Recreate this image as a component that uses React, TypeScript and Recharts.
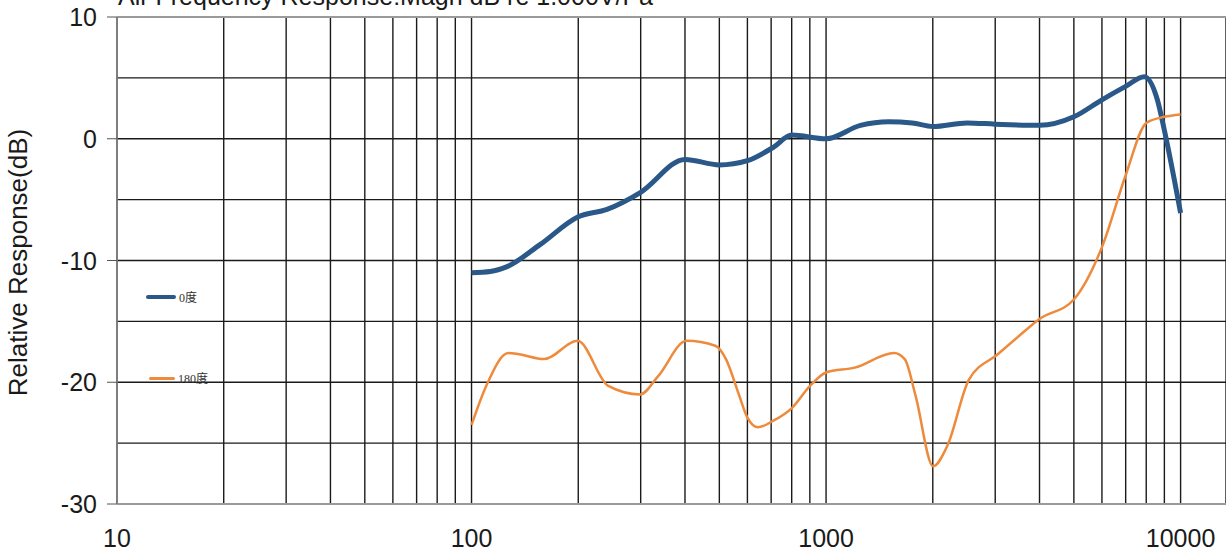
import { CartesianGrid, Legend, Line, LineChart, ReferenceLine, XAxis, YAxis } from "recharts"

const blueFreq = [100, 113, 126, 156, 200, 241, 300, 400, 500, 600, 710, 800, 1000, 1250, 1500, 1750, 2000, 2500, 3000, 4000, 5000, 6000, 7000, 7900, 8600, 9000, 10000]
const blueDb = [-11.0, -10.9, -10.5, -8.7, -6.4, -5.8, -4.4, -1.7, -2.15, -1.8, -0.7, 0.3, 0.0, 1.1, 1.4, 1.3, 1.0, 1.3, 1.2, 1.1, 1.8, 3.2, 4.3, 5.1, 3.2, 0.7, -6.1]

const orangeFreq = [100, 110, 127, 136, 160, 199, 243, 299, 336, 404, 487, 522, 566, 600, 643, 706, 802, 901, 1000, 1205, 1556, 1667, 1788, 2005, 2200, 2527, 3050, 3500, 4000, 5000, 6000, 7000, 8000, 9000, 10000]
const orangeDb = [-23.5, -20.3, -17.6, -17.7, -18.1, -16.6, -20.3, -21.0, -19.5, -16.6, -17.0, -18.1, -20.9, -22.9, -23.7, -23.2, -22.1, -20.3, -19.2, -18.8, -17.6, -18.1, -21.1, -26.9, -25.2, -19.8, -17.7, -16.2, -14.8, -13.2, -8.9, -3.0, 1.3, 1.8, 2.0]

const xGridTicks = [10, 20, 30, 40, 50, 60, 70, 80, 90, 100, 200, 300, 400, 500, 600, 700, 800, 900, 1000, 2000, 3000, 4000, 5000, 6000, 7000, 8000, 9000, 10000]
const xTickLabels = [10, 100, 1000, 10000]
const yGridTicks = [10, 5, 0, -5, -10, -15, -20, -25, -30]
const yTickLabels = [10, 0, -10, -20, -30]

const seriesNames = ["0度", "180度"]
const title = "Air Frequency Response:Magn dB re 1.000V/Pa"

const blueData = blueFreq.map((f, i) => ({ f, db: blueDb[i] }))
const orangeData = orangeFreq.map((f, i) => ({ f, db: orangeDb[i] }))

const font = "'Liberation Sans', Arial, sans-serif"

const YTick = (props: any) => {
  const { x, y, payload } = props
  if (!yTickLabels.includes(payload.value)) return null
  return (
    <g>
      <line x1={x + 10} x2={x + 20} y1={y} y2={y} stroke="#555" strokeWidth={1} />
      <text x={x} y={y} dy="0.36em" textAnchor="end" fontSize={25} fontFamily={font} fill="#1a1a1a">
        {payload.value}
      </text>
    </g>
  )
}

const XTick = (props: any) => {
  const { x, y, payload } = props
  if (!xTickLabels.includes(payload.value)) return null
  return (
    <text x={x} y={y} dy="0.71em" textAnchor="middle" fontSize={25} fontFamily={font} fill="#1a1a1a">
      {payload.value}
    </text>
  )
}

const YLabel = (props: any) => {
  const { viewBox } = props
  const cx = 18
  const cy = viewBox.y + viewBox.height / 2 + 2
  return (
    <text
      x={cx}
      y={cy}
      transform={`rotate(-90, ${cx}, ${cy})`}
      textAnchor="middle"
      dominantBaseline="central"
      fontSize={26}
      fontFamily={font}
      fill="#1a1a1a"
    >
      Relative Response(dB)
    </text>
  )
}

const renderLegend = (props: any) => {
  const { payload } = props
  return (
    <div style={{ position: "relative", width: 120, height: 100 }}>
      {payload.map((item: any, i: number) => (
        <div
          key={item.value}
          style={{
            position: "absolute",
            left: i === 0 ? 0 : 3,
            top: i * 81,
            display: "flex",
            alignItems: "center",
            height: 12,
          }}
        >
          <div
            style={{
              width: i === 0 ? 30 : 26,
              height: i === 0 ? 4 : 3,
              borderRadius: 2,
              background: item.color,
              marginRight: 3,
            }}
          />
          <span style={{ fontSize: 12, fontFamily: "'Liberation Serif', 'Noto Sans CJK SC', serif", color: "#333" }}>
            {item.value}
          </span>
        </div>
      ))}
    </div>
  )
}

export default function App() {
  return (
    <div style={{ position: "absolute", left: 0, top: 0, width: 1226, height: 554, background: "#fff" }}>
      <LineChart width={1226} height={554} margin={{ top: 17, right: 0, bottom: 0, left: 0 }}>
        <CartesianGrid stroke="#1a1a1a" strokeWidth={1.4} />
        <XAxis
          type="number"
          dataKey="f"
          scale="log"
          domain={[10, 13430]}
          allowDataOverflow
          ticks={xGridTicks}
          interval={0}
          height={50}
          tickLine={false}
          tickSize={0}
          tickMargin={25}
          axisLine={false}
          tick={<XTick />}
        />
        <YAxis
          type="number"
          domain={[-30, 10]}
          ticks={yGridTicks}
          interval={0}
          width={117}
          tickLine={false}
          tickSize={10}
          tickMargin={10}
          axisLine={false}
          tick={<YTick />}
          label={<YLabel />}
        />
        <ReferenceLine y={10} stroke="#9a9a9a" strokeWidth={2} />
        <ReferenceLine y={-30} stroke="#9a9a9a" strokeWidth={2} />
        <ReferenceLine x={10} stroke="#8a8a8a" strokeWidth={1.5} />
        <Legend
          content={renderLegend}
          layout="horizontal"
          verticalAlign="middle"
          align="center"
          wrapperStyle={{ position: "absolute", left: 146, top: 291, width: 120, height: 100 }}
        />
        <Line
          data={blueData}
          dataKey="db"
          name={seriesNames[0]}
          type="monotoneX"
          stroke="#2a5888"
          strokeWidth={5}
          dot={false}
          isAnimationActive={false}
        />
        <Line
          data={orangeData}
          dataKey="db"
          name={seriesNames[1]}
          type="monotoneX"
          stroke="#ee8a3c"
          strokeWidth={2.5}
          dot={false}
          isAnimationActive={false}
        />
      </LineChart>
      <svg width={1226} height={20} style={{ position: "absolute", left: 0, top: 0, pointerEvents: "none" }}>
        <text x={118} y={5} fontSize={25} fontFamily={font} fill="#1a1a1a">
          {title}
        </text>
      </svg>
    </div>
  )
}
